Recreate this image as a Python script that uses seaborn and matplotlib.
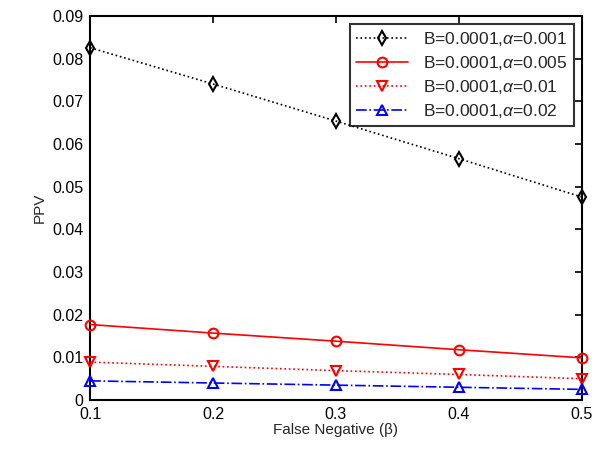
import matplotlib
matplotlib.use("Agg")
import matplotlib.pyplot as plt
import seaborn as sns
import pandas as pd

beta = [0.1, 0.2, 0.3, 0.4, 0.5]
ppv_a001 = [0.0826, 0.0741, 0.0654, 0.0566, 0.0476]
ppv_a005 = [0.0177, 0.0157, 0.0138, 0.0118, 0.0099]
ppv_a01 = [0.0089, 0.0079, 0.0069, 0.0060, 0.0050]
ppv_a02 = [0.0045, 0.0040, 0.0035, 0.0030, 0.0025]
labels = ["B=0.0001,$\\alpha$=0.001", "B=0.0001,$\\alpha$=0.005",
          "B=0.0001,$\\alpha$=0.01", "B=0.0001,$\\alpha$=0.02"]
yticks = [0, 0.01, 0.02, 0.03, 0.04, 0.05, 0.06, 0.07, 0.08, 0.09]
ytick_labels = ["0", "0.01", "0.02", "0.03", "0.04", "0.05", "0.06", "0.07", "0.08", "0.09"]
xticks = [0.1, 0.2, 0.3, 0.4, 0.5]

sns.set_style("white")
plt.rcParams['font.family'] = ['Liberation Sans', 'DejaVu Sans']
plt.rcParams['mathtext.fontset'] = 'custom'
plt.rcParams['mathtext.it'] = 'Liberation Sans:italic'
plt.rcParams['mathtext.rm'] = 'Liberation Sans'

fig = plt.figure(figsize=(6.01, 4.49), dpi=100)
ax = fig.add_axes([0.150, 0.109, 0.818, 0.855])

series = [ppv_a001, ppv_a005, ppv_a01, ppv_a02]
colors = ["black", "red", "red", "blue"]
styles = [":", "-", ":", "-."]
markers = ["d", "o", "v", "^"]
for vals, lab, c, ls, m in zip(series, labels, colors, styles, markers):
    df = pd.DataFrame({"beta": beta, "ppv": vals})
    sns.lineplot(data=df, x="beta", y="ppv", ax=ax, color=c, linestyle=ls,
                 marker=m, markersize=7, markerfacecolor="none",
                 markeredgecolor=c, markeredgewidth=1.5, linewidth=1.2,
                 label=lab, clip_on=False, zorder=3)

ax.set_xlim(0.1, 0.5)
ax.set_ylim(0, 0.09)
ax.set_xticks(xticks)
ax.set_xticklabels([str(x) for x in xticks])
ax.set_yticks(yticks)
ax.set_yticklabels(ytick_labels)
ax.tick_params(direction="in", top=True, right=True, length=5, width=1.2,
               labelsize=11.5, colors="black")
ax.tick_params(axis="y", pad=5)
ax.tick_params(axis="x", pad=5)
for s in ax.spines.values():
    s.set_color("black")
    s.set_linewidth(1.5)
ax.set_xlabel("False Negative (\u03b2)", fontsize=11, labelpad=1)
ax.set_ylabel("PPV", fontsize=11, labelpad=4)

leg = ax.legend(loc="upper right", fontsize=12.5, frameon=True, fancybox=False,
                borderpad=0.35, labelspacing=0.35, handlelength=3.0,
                handletextpad=0.9, borderaxespad=0.45)
leg.get_frame().set_edgecolor("black")
leg.get_frame().set_linewidth(1.5)
leg.set_zorder(5)

fig.savefig("out.png", dpi=100)
